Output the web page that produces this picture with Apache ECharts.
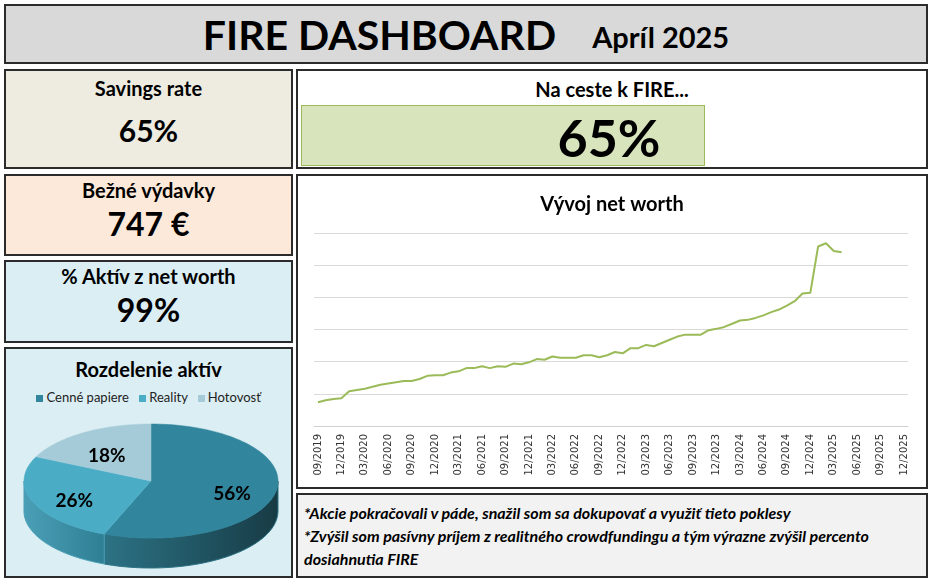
<!DOCTYPE html>
<html><head><meta charset="utf-8">
<script src="https://cdn.jsdelivr.net/npm/echarts@6/dist/echarts.min.js"></script>
<style>
body{margin:0;width:933px;height:585px;background:#fff;font-family:Lato,"Open Sans",sans-serif;position:relative;overflow:hidden}
.b{position:absolute;border:2px solid #2b2b2b;box-sizing:border-box;font-weight:bold;color:#000;text-align:center}
</style></head><body>
<script>
const months=[];for(let y=2019;y<=2025;y++)for(let m=1;m<=12;m++){if(y===2019&&m<9)continue;months.push(String(m).padStart(2,'0')+'/'+y);}
const netWorth=[37,40,42,43,54,56,58,61,64,66,68,70,70,73,78,79,79,83,85,90,90,93,90,93,92,97,96,99,104,103,108,106,106,106,110,110,107,110,115,113,121,121,126,124,129,134,139,142,142,142,149,151,154,159,164,165,168,172,177,181,187,194,206,207,279,284,272,270];
const assetNames=['Cenné papiere','Reality','Hotovosť'];
const assetShares=[56,26,18];
</script>
<div class="b" style="left:4px;top:4px;width:924px;height:60px;background:#d9d9d9"><span style="font-size:41px;line-height:58px">FIRE DASHBOARD</span><span style="font-size:29px;margin-left:36px;vertical-align:2px">Apríl 2025</span></div>
<div class="b" style="left:4px;top:69px;width:289px;height:100px;background:#eeece1"><div style="font-size:20px;margin-top:5px">Savings rate</div><div style="font-size:30px;margin-top:12px">65%</div></div>
<div class="b" style="left:4px;top:174px;width:289px;height:82px;background:#fde9d9"><div style="font-size:20px;margin-top:2px">Bežné výdavky</div><div style="font-size:32px;margin-top:2px">747 €</div></div>
<div class="b" style="left:4px;top:260px;width:289px;height:83px;background:#dbeef3"><div style="font-size:20px;margin-top:2px">% Aktív z net worth</div><div style="font-size:32px;margin-top:2px">99%</div></div>
<div class="b" style="left:4px;top:347px;width:289px;height:231px;background:#dbeef3"><div style="font-size:20px;margin-top:8px">Rozdelenie aktív</div>
<div style="font-size:13px;margin-top:8px;font-weight:normal;color:#222"><span style="display:inline-block;width:7px;height:7px;background:#31859c"></span> Cenné papiere &nbsp;&nbsp;<span style="display:inline-block;width:7px;height:7px;background:#4bacc6"></span> Reality &nbsp;&nbsp;<span style="display:inline-block;width:7px;height:7px;background:#a5cbd9"></span> Hotovosť</div>
<div id="pie" style="position:absolute;left:0;top:60px;width:285px;height:167px"></div></div>
<div class="b" style="left:296px;top:69px;width:632px;height:100px;background:#fff"><div style="font-size:20px;margin-top:6px">Na ceste k FIRE...</div>
<div style="position:absolute;left:3px;top:34px;width:404px;height:61px;background:#d7e4bc;border:1px solid #9bbb59;box-sizing:border-box"></div>
<div style="position:absolute;left:196px;top:36px;width:230px;font-size:52px;line-height:60px">65%</div></div>
<div class="b" style="left:296px;top:174px;width:632px;height:315px;background:#fff"><div id="line" style="position:absolute;left:0;top:0;width:628px;height:311px"></div></div>
<div class="b" style="left:296px;top:493px;width:632px;height:85px;background:#f2f2f2;text-align:left;font-style:italic;font-size:16px;line-height:23px;padding:6px 6px"><div>*Akcie pokračovali v páde, snažil som sa dokupovať a využiť tieto poklesy</div><div>*Zvýšil som pasívny príjem z realitného crowdfundingu a tým výrazne zvýšil percento dosiahnutia FIRE</div></div>
<script>
const lc=echarts.init(document.getElementById('line'));
lc.setOption({animation:false,
title:{text:'Vývoj net worth',left:'center',top:14,textStyle:{fontFamily:'Lato',fontSize:20,fontWeight:'bold',color:'#000'}},
grid:{left:16,right:18,top:57,bottom:61},
xAxis:{type:'category',data:months,boundaryGap:true,axisLine:{lineStyle:{color:'#d0d0d0'}},axisTick:{interval:2,alignWithLabel:false,lineStyle:{color:'#d0d0d0'}},
axisLabel:{interval:2,rotate:90,fontSize:10,color:'#333',fontFamily:'DejaVu Sans'}},
yAxis:{type:'value',min:0,max:300,interval:50,axisLabel:{show:false},axisLine:{show:false},axisTick:{show:false},splitLine:{lineStyle:{color:'#d9d9d9'}}},
series:[{type:'line',data:netWorth,symbol:'none',lineStyle:{color:'#9bbb59',width:2}}]});
const pc=echarts.init(document.getElementById('pie'));
const topCols=['#31859c','#4bacc6','#a5cbd9'];
const sideCols=[['#2c7385','#173b45'],['#4a9fb6','#2f7f94'],['#8fb3c0','#7aa0ae']];
pc.setOption({animation:false,series:[{type:'custom',coordinateSystem:'none',data:assetShares.map((v,i)=>[i,v]),
renderItem:function(p,api){
 const i=api.value(0),v=api.value(1);const tot=assetShares.reduce((a,b)=>a+b,0);
 let s=0;for(let k=0;k<i;k++)s+=assetShares[k];
 const a=s/tot*360,b=(s+v)/tot*360;
 const cx=145,cy=72,rx=127,ry=57,d=30;
 const pt=(t,dy)=>{const r=t*Math.PI/180;return [cx+rx*Math.sin(r),cy-ry*Math.cos(r)+(dy||0)];};
 const ch=[];
 const sa=Math.max(a,90),sb=Math.min(b,270);
 if(sb>sa){const pts=[];for(let t=sa;t<=sb+0.01;t+=2)pts.push(pt(Math.min(t,sb)));pts.push(pt(sb));pts.push(pt(sb,d));for(let t=sb;t>=sa-0.01;t-=2)pts.push(pt(Math.max(t,sa),d));pts.push(pt(sa,d));
  const g=new echarts.graphic.LinearGradient(0,0,1,0,[{offset:0,color:sideCols[i][0]},{offset:1,color:sideCols[i][1]}]);
  ch.push({type:'polygon',shape:{points:pts},style:{fill:g,stroke:sideCols[i][0],lineWidth:1}});}
 const tp=[[cx,cy]];for(let t=a;t<=b+0.01;t+=2)tp.push(pt(Math.min(t,b)));tp.push(pt(b));
 ch.push({type:'polygon',shape:{points:tp},style:{fill:topCols[i],stroke:topCols[i],lineWidth:0.5}});
 const m=(a+b)/2,lp=pt(m);const lx=cx+(lp[0]-cx)*0.65,ly=cy+(lp[1]-cy)*0.65;
 ch.push({type:'text',style:{text:v+'%',x:lx,y:ly+6,align:'center',verticalAlign:'middle',font:'bold 19px Lato',fill:'#000'}});
 return {type:'group',children:ch};
}}]});
</script>
</body></html>
